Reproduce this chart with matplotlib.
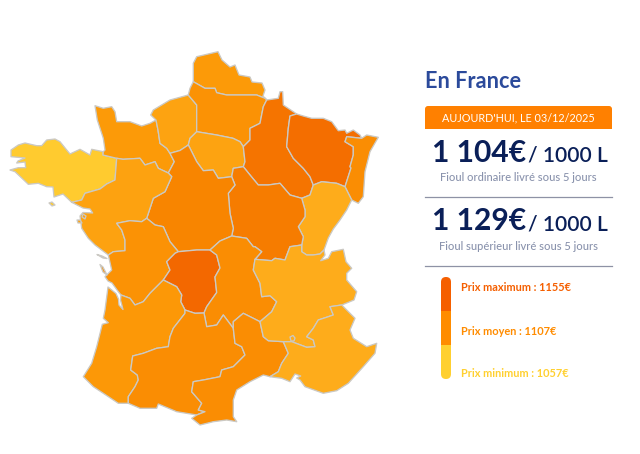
import matplotlib
matplotlib.use("Agg")
import matplotlib.pyplot as plt
from matplotlib.patches import Polygon, FancyBboxPatch, Rectangle
from matplotlib.colors import LinearSegmentedColormap, Normalize

# ---------- data ----------
price_min, price_avg, price_max = 1057, 1107, 1155
ordinary_price = "1 104€"
superior_price = "1 129€"
today_label = "AUJOURD'HUI, LE 03/12/2025"

region_prices = {
    "Bretagne": 1057, "Rhone-Alpes": 1090, "PACA": 1090, "Franche-Comte": 1090,
    "Ile-de-France": 1095, "Haute-Normandie": 1095, "Pays de la Loire": 1096,
    "Basse-Normandie": 1100, "Nord-Pas-de-Calais": 1100, "Aquitaine": 1102,
    "Picardie": 1107, "Poitou-Charentes": 1107, "Auvergne": 1112,
    "Midi-Pyrenees": 1112, "Languedoc": 1112, "Alsace": 1112, "Centre": 1120,
    "Bourgogne": 1130, "Champagne": 1140, "Lorraine": 1147, "Limousin": 1155,
}

# borders (pixel coordinates of the map)
bret_coast = [(103.3,151.7),(91.7,149.3),(90,155),(80,149.3),(70,154),(66.7,150),(60,141.7),(55,139),(46.7,140),(41.7,145.7),(36.7,145.7),(25,143),(18.3,145),(11,150),(11,156.7),(18,157.3),(25,158),(18,161),(16.7,163),(25,162),(25.7,167.7),(18.3,167.7),(10,170),(15,171.7),(21.7,178),(28.3,184.3),(38.3,183.3),(46.7,186.7),(53,187),(54,197),(63,194),(71.7,202.3)]
bret_pdl = [(116.7,158.3),(115,180),(106.7,184),(100,189),(85,193.3),(81.7,200),(71.7,202.3)]
bret_bn = [(103.3,151.7),(103,155),(110,156.7),(116.7,158.3)]
bn_coast = [(103.3,151.7),(105,150),(103.3,138.3),(97.3,120),(95,105.7),(103.3,108.3),(111.7,106.7),(115,111.7),(116.7,121.7),(130,121.7),(141.7,126),(150,123.3),(156,120)]
bn_hn = [(156,120),(158,130),(160,143.3),(166.7,148.3),(170,153.3)]
bn_pdl = [(116.7,158.3),(123,159.3),(140,158.3),(145,165),(155,161.7),(158.3,168.3),(168.3,173),(171.7,176.7)]
bn_centre = [(170,153.3),(174.3,161.7),(168.3,173),(171.7,176.7)]
hn_centre = [(170,153.3),(180,150.5),(188.3,145)]
hn_idf = [(188.3,145),(190,138.3),(196.7,131.7)]
hn_coast = [(188.3,95),(170,100),(153.3,110),(150.7,115),(156,120)]
hn_pic = [(188.3,95),(196.7,105),(196.7,131.7)]
pdl_centre = [(171.7,176.7),(165,191.7),(153.3,198.3),(146.7,218.3)]
pdl_poi = [(146.7,218.3),(141.7,221.7),(130,220.7),(116.7,223.3),(121.7,230),(125,240),(125,250.7),(113.3,251.7),(108.3,255)]
pdl_coast = [(71.7,202.3),(83,208),(90,209),(92.7,213),(83,212.5),(80,216),(81.7,228.3),(88.3,238.3),(95,245),(108.3,255)]
poi_centre = [(146.7,218.3),(155,225),(163.3,226.7),(170,241.7),(178.3,251.7)]
poi_lim = [(178.3,251.7),(175,253.3),(166.7,261.7),(170,270),(163.3,280)]
poi_coast = [(108.3,255),(111.7,270),(105,276.7),(108,281),(112,283),(118.3,291.7),(121,295)]
poi_aq = [(121,295),(130,298.3),(135,305),(143.3,301.7),(150,293.3),(158.3,285),(163.3,280)]
centre_lim = [(178.3,251.7),(196.7,250),(210,250)]
centre_auv = [(210,250),(220,241),(231.7,236)]
centre_bou = [(231.7,236),(233.3,228.3),(230,213.3),(228.3,193.3),(235,185),(231.7,176.7)]
centre_idf = [(231.7,176.7),(218.3,178.3),(213.3,170),(203.3,170.7),(196.7,161.7),(190,148.3),(188.3,145)]
idf_pic = [(196.7,131.7),(216.7,135),(233,138.3),(240,141.7),(243.3,146.7)]
idf_cha = [(243.3,146.7),(245,161.7),(243.3,166.7)]
idf_bou = [(243.3,166.7),(233.3,168.3),(231.7,176.7)]
pic_cha = [(243.3,146.7),(250,140),(250,128.3),(260,123.3),(263.3,106.7),(266.7,100)]
pic_npc = [(193.3,81.7),(205,88.3),(215,88.3),(216.7,92.7),(226.7,95),(243.3,95),(256.7,95),(265,98.3),(266.7,100)]
pic_coast = [(193.3,81.7),(190,88.3),(188.3,95)]
npc_coast = [(193.3,81.7),(193.3,63.3),(196.7,56.7),(218,51.7),(222,60),(230,67),(235,65),(239,75),(250,77),(252,82),(262,83),(265,90),(263,96),(266.7,100)]
cha_north = [(266.7,100),(278.3,98.3),(280,91.7),(282.7,91.7),(283.3,105),(296.7,114)]
cha_lor = [(296.7,114),(290,116),(288.3,128.3),(286.7,146.7),(293.3,158.3),(303.3,168.3),(310,176.7),(313.3,185)]
cha_fc = [(313.3,185),(310,195),(301.7,198.3)]
cha_bou = [(301.7,198.3),(290,195),(280,183.3),(268.3,185),(258.3,185),(250,175),(243.3,166.7)]
lor_north = [(296.7,114),(303.3,116),(311.7,118.3),(323.3,118.3),(331.7,121.7),(338.3,130.7),(345,130),(346.7,133.3),(353.3,130),(360,135),(361.7,138.3)]
lor_als = [(361.7,138.3),(346.7,136.7),(345,141.7),(353.3,146.7),(353.3,155),(350,166.7),(351,168),(345,186.7)]
lor_fc = [(345,186.7),(336.7,183.3),(321.7,181.7),(313.3,185)]
als_east = [(361.7,138.3),(366.7,135),(378.3,137.3),(370,151.7),(365,171.7),(363.3,196.7),(358.3,203.3),(351.7,200)]
als_fc = [(351.7,200),(348.3,193.3),(345,186.7)]
fc_swiss = [(351.7,200),(346.7,210),(340,220),(333.3,229),(328.3,238),(324,250)]
fc_ra = [(301.7,245),(301.7,251.7),(306.7,255),(313,255),(320,254),(324,250)]
fc_bou = [(301.7,198.3),(305,210),(305,216.7),(298.3,226.7),(303.3,236.7),(301.7,245)]
bou_ra = [(301.7,245),(290,246.7),(285,260),(275,258.3),(271.7,260.7),(255,259.3)]
bou_auv = [(231.7,236),(246.7,238.3),(253.3,246.7),(255,246.7),(261.7,251.7),(255,259.3)]
auv_ra = [(255,259.3),(253.3,270),(260,283.3),(261.7,296.7),(270,295.7),(276.7,301.7),(271.7,311.7),(260,321.7)]
auv_lan = [(233.3,328.3),(233.3,321.7),(243.3,313.3),(253.3,318.3),(260,321.7)]
auv_lim = [(210,250),(216.7,255),(220,268),(215,277),(216.7,292.5),(206.7,306.7),(204,313)]
auv_mp = [(204,313),(206.7,326.7),(216.7,325),(223.3,315),(233.3,328.3)]
lim_mp = [(185,310),(195,313.3),(204,313)]
lim_aq = [(163.3,280),(176.7,286.7),(181.7,295),(180.7,301.7),(185,310)]
aq_mp = [(185,310),(185,313.3),(173.3,328.3),(170,336.7),(168.3,346.7),(156.7,348.3),(143.3,353.3),(132.7,356),(130.7,370),(137.3,375),(138.3,380),(135,386.7),(128.3,396.7),(128.3,403.3)]
aq_coast = [(121,295),(120.5,300),(123,309.5),(119,305),(118.5,299),(116,293.5),(108,287),(105,310),(103.3,318.3),(108.3,322.7),(102.3,324.3),(96.7,346.7),(91.7,363.3),(83.3,376.7),(93.3,386.7),(103.3,393.3),(118.3,403.3),(128.3,403.3)]
mp_south = [(128.3,403.3),(140,408.3),(156.7,408.3),(158.3,404),(176.7,411.7),(196.7,415)]
mp_lan = [(196.7,415),(205,411.7),(198.3,410),(201.7,403.3),(191.7,391.7),(193.3,381.7),(203.3,380),(220,376.7),(221.7,370),(233.3,366.7),(245,355),(241.7,346.7),(235,343.3),(233.3,328.3)]
lan_coast = [(196.7,415),(191.7,418.3),(200,425),(213.3,421.7),(226.7,420),(236.7,421.7),(233.3,416.7),(233.3,400),(236.7,390),(250,381.7),(263.3,375),(270,376.7)]
lan_ra = [(260,321.7),(263.3,336.7),(268.3,340.7),(283.3,341.7)]
lan_paca = [(283.3,341.7),(288.3,353.3),(281.7,363.3),(278.3,371.7),(270,376.7)]
ra_paca = [(283.3,341.7),(291.7,341.7),(306.7,347.3),(315,346.7),(313.3,340),(306.7,336.7),(313.3,328.3),(318.3,320),(328.3,316.7),(333.3,315),(330,306.7),(341.7,305)]
ra_east = [(324,250),(325,255),(320.7,260.7),(328.3,258.3),(331.7,251.7),(343.3,249.3),(346,261.7),(351.7,268.3),(346.7,273.3),(346.7,280),(356.7,291.7),(354,300),(341.7,305)]
paca_coast = [(341.7,305),(355,318.3),(350,330),(353.3,338.3),(366.7,346.7),(376.7,343.3),(375,353.3),(363.3,366.7),(348.3,383.3),(336.7,390.7),(323.3,393.3),(305,386.7),(300,380),(296.7,378),(300.7,376),(295,374),(290,381.7),(281.7,378.3),(270,376.7)]

enclave = [(290,337),(293,335.5),(295,338),(294,341),(291,341)]
belle_ile = [(49,203),(52,202),(55,205),(52,206)]
yeu = [(77,220),(80,220),(82,223),(78,223)]
noirmoutier = [(83,214),(86,216),(85,219),(82,217)]
re_island = [(97,254.5),(102,256),(107,258.5),(103,258)]
oleron = [(100,264.5),(103,267),(107,275),(103,272)]

def r(seg):
    return seg[::-1]

def ring(*segs):
    pts = []
    for s in segs:
        pts.extend(s)
    return pts

region_shapes = {
    "Bretagne": [ring(bret_coast, r(bret_pdl), r(bret_bn)), belle_ile],
    "Basse-Normandie": [ring(bn_coast, bn_hn, bn_centre, r(bn_pdl), r(bret_bn))],
    "Haute-Normandie": [ring(hn_coast, bn_hn, hn_centre, hn_idf, r(hn_pic))],
    "Nord-Pas-de-Calais": [ring(npc_coast, r(pic_npc))],
    "Picardie": [ring(pic_npc, r(pic_cha), r(idf_pic), r(hn_pic), r(pic_coast))],
    "Ile-de-France": [ring(idf_pic, idf_cha, idf_bou, centre_idf, hn_idf)],
    "Champagne": [ring(cha_north, cha_lor, cha_fc, cha_bou, r(idf_cha), pic_cha)],
    "Lorraine": [ring(lor_north, lor_als, lor_fc, r(cha_lor))],
    "Alsace": [ring(als_east, als_fc, r(lor_als))],
    "Franche-Comte": [ring(r(lor_fc), r(als_fc), fc_swiss, r(fc_ra), r(fc_bou), r(cha_fc))],
    "Bourgogne": [ring(r(cha_bou), fc_bou, bou_ra, r(bou_auv), centre_bou, r(idf_bou))],
    "Centre": [ring(hn_centre, r(centre_idf), r(centre_bou), r(centre_auv), r(centre_lim), r(poi_centre), r(pdl_centre), r(bn_centre))],
    "Pays de la Loire": [ring(bret_pdl, pdl_coast, r(pdl_poi), r(pdl_centre), r(bn_pdl)), yeu, noirmoutier],
    "Poitou-Charentes": [ring(pdl_poi, poi_coast, poi_aq, r(poi_lim), r(poi_centre)), re_island, oleron],
    "Limousin": [ring(r(poi_lim), centre_lim, auv_lim, r(lim_mp), r(lim_aq))],
    "Auvergne": [ring(centre_auv, bou_auv, auv_ra, r(auv_lan), r(auv_mp), r(auv_lim))],
    "Aquitaine": [ring(aq_coast, r(aq_mp), r(lim_aq), r(poi_aq))],
    "Midi-Pyrenees": [ring(aq_mp, mp_south, mp_lan, r(auv_mp), r(lim_mp))],
    "Languedoc": [ring(mp_lan, auv_lan, lan_ra, lan_paca, r(lan_coast))],
    "Rhone-Alpes": [ring(fc_ra, ra_east, r(ra_paca), r(lan_ra), r(auv_ra), r(bou_ra))],
    "PACA": [ring(ra_paca, paca_coast, r(lan_paca)), enclave],
}

# ---------- style ----------
anchors = [(1057, "#FFCB2F"), (1090, "#FEAC1B"), (1100, "#FC9A08"), (1107, "#FB9205"),
           (1120, "#F88500"), (1140, "#F57400"), (1155, "#F36800")]
norm = Normalize(price_min, price_max)
cmap = LinearSegmentedColormap.from_list("fuel", [(norm(p), c) for p, c in anchors])
BORDER = "#CBC9C4"
NAVY = "#0A1F58"
GREY = "#8A93AD"
plt.rcParams["font.family"] = ["Lato", "DejaVu Sans"]

fig = plt.figure(figsize=(6.4, 4.54), dpi=100)
ax = fig.add_axes([0, 0, 1, 1])
ax.set_xlim(0, 640)
ax.set_ylim(454, 0)
ax.axis("off")

for name, parts in region_shapes.items():
    col = cmap(norm(region_prices[name]))
    for pts in parts:
        ax.add_patch(Polygon(pts, closed=True, facecolor=col, edgecolor=BORDER,
                             linewidth=0.95, joinstyle="round"))

# ---------- panel ----------
ax.text(425, 82, "En France", color="#2B4A9B", fontsize=15.6, fontweight="bold", va="center", ha="left")
ax.add_patch(FancyBboxPatch((425, 106), 187, 23, boxstyle="round,pad=0,rounding_size=3", fc="#FF8000", ec="none"))
ax.add_patch(Rectangle((425, 118), 187, 11, fc="#FF8000", ec="none"))
ax.text(518, 118, today_label, color="white", fontsize=7.85, va="center", ha="center")

def price_row(y, big, sub, sub_y):
    ax.text(432, y, big, color=NAVY, fontsize=21.6, fontweight="bold", va="baseline", ha="left")
    ax.text(527.5, y, "/ 1000 L", color=NAVY, fontsize=15.1, fontweight="semibold", va="baseline", ha="left")
    ax.text(518.5, sub_y, sub, color=GREY, fontsize=8.0, fontweight="medium", va="center", ha="center")

price_row(161.5, ordinary_price, "Fioul ordinaire livré sous 5 jours", 177.5)
price_row(230.5, superior_price, "Fioul supérieur livré sous 5 jours", 246.5)
ax.plot([425, 612], [197, 197], color="#8E92A5", lw=0.9)
ax.plot([425, 612], [266, 266], color="#8E92A5", lw=0.9)

# legend bar
bar_cols = ["#F55F00", "#FF8C00", "#FFD030"]
bar_y = [277, 311, 345, 379]
for i, c in enumerate(bar_cols):
    ax.add_patch(Rectangle((441, bar_y[i] + (5 if i == 0 else 0)), 10,
                           bar_y[i + 1] - bar_y[i] - (5 if i in (0, 2) else 0), fc=c, ec="none"))
ax.add_patch(FancyBboxPatch((441, 277), 10, 10, boxstyle="round,pad=0,rounding_size=5", fc=bar_cols[0], ec="none"))
ax.add_patch(FancyBboxPatch((441, 369), 10, 10, boxstyle="round,pad=0,rounding_size=5", fc=bar_cols[2], ec="none"))

labels = [("Prix maximum : %d€" % price_max, 287.5, "#F55F00"),
          ("Prix moyen : %d€" % price_avg, 331.5, "#FF8C00"),
          ("Prix minimum : %d€" % price_min, 373.5, "#FFD030")]
for txt, y, c in labels:
    ax.text(461, y, txt, color=c, fontsize=7.9, fontweight="bold", va="center", ha="left")

fig.savefig("out.png", dpi=100)
